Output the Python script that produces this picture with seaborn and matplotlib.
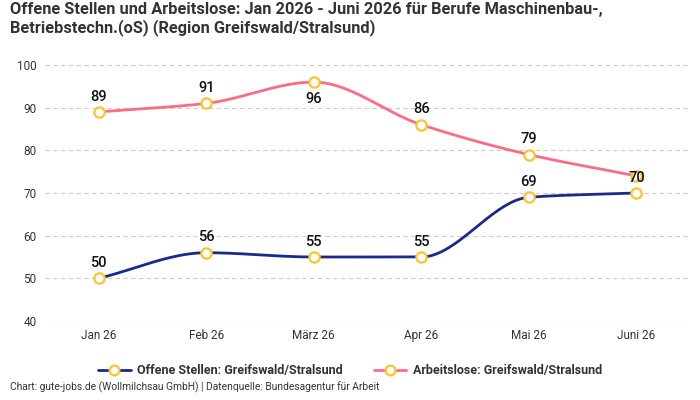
import numpy as np
import pandas as pd
import matplotlib.pyplot as plt
import seaborn as sns
from matplotlib.lines import Line2D

months = ["Jan 26", "Feb 26", "März 26", "Apr 26", "Mai 26", "Juni 26"]
offene_stellen = [50, 56, 55, 55, 69, 70]
arbeitslose = [89, 91, 96, 86, 79, 74]
arbeitslose_labels = ["89", "91", "96", "86", "79", "70"]
offene_labels = ["50", "56", "55", "55", "69", "70"]

sns.set_theme(style="white")
plt.rcParams['font.family'] = ['Roboto', 'DejaVu Sans']

BLUE = "#1b2a8a"
PINK = "#ff6b84"
GOLD = "#ffc42a"


def monotone(x, y, n=40):
    # monotone cubic (Fritsch-Carlson) just for drawing the smooth line
    x = np.asarray(x, float)
    y = np.asarray(y, float)
    h = np.diff(x)
    d = np.diff(y) / h
    m = np.zeros_like(y)
    m[0], m[-1] = d[0], d[-1]
    for i in range(1, len(y) - 1):
        if d[i - 1] * d[i] <= 0:
            m[i] = 0
        else:
            m[i] = 3 * (h[i - 1] + h[i]) / ((2 * h[i] + h[i - 1]) / d[i - 1] + (h[i] + 2 * h[i - 1]) / d[i])
    xs, ys = [], []
    for i in range(len(h)):
        t = np.linspace(0, 1, n)
        h00 = 2 * t**3 - 3 * t**2 + 1
        h10 = t**3 - 2 * t**2 + t
        h01 = -2 * t**3 + 3 * t**2
        h11 = t**3 - t**2
        xs.append(x[i] + t * h[i])
        ys.append(h00 * y[i] + h10 * h[i] * m[i] + h01 * y[i + 1] + h11 * h[i] * m[i + 1])
    return np.concatenate(xs), np.concatenate(ys)


df = pd.DataFrame({"pos": range(len(months)), "Offene": offene_stellen, "Arbeitslose": arbeitslose})

fig = plt.figure(figsize=(7, 4), dpi=100)
ax = fig.add_axes([0.064, 0.1975, 0.922, 0.64])

for col, color in [("Offene", BLUE), ("Arbeitslose", PINK)]:
    sx, sy = monotone(df["pos"], df[col])
    ax.plot(sx, sy, color=color, lw=2, zorder=2)
    sns.scatterplot(data=df, x="pos", y=col, ax=ax, s=55, color="white",
                    edgecolor=GOLD, linewidth=1.6, zorder=3, legend=False)

for i, v in enumerate(offene_stellen):
    ax.annotate(offene_labels[i], (i, v), xytext=(0, 6), textcoords="offset points",
                ha="center", va="bottom", fontsize=10.5, fontweight="medium", color="#111111")
for i, v in enumerate(arbeitslose):
    if i == 5:
        continue
    off = -7 if i == 2 else 6
    ax.annotate(arbeitslose_labels[i], (i, v), xytext=(0, off), textcoords="offset points",
                ha="center", va="top" if off < 0 else "bottom", fontsize=10.5,
                fontweight="medium", color="#111111")

ax.set_xlim(-0.5, 5.5)
ax.set_ylim(40, 100)
ax.set_yticks([40, 50, 60, 70, 80, 90, 100])
ax.set_xticks(range(len(months)))
ax.set_xticklabels(months)
ax.tick_params(axis="both", labelsize=8.5, colors="#333333", length=0, pad=6)
ax.set_xlabel("")
ax.set_ylabel("")
ax.grid(axis="y", color="#cccccc", linestyle=(0, (4, 3)), lw=0.8)
ax.set_axisbelow(True)
for s in ax.spines.values():
    s.set_visible(False)

fig.text(0.014, 0.995, "Offene Stellen und Arbeitslose: Jan 2026 - Juni 2026 für Berufe Maschinenbau-,\nBetriebstechn.(oS) (Region Greifswald/Stralsund)",
         ha="left", va="top", fontsize=11.8, fontweight="bold", color="#333333", linespacing=1.15)

handles = [Line2D([0], [0], color=BLUE, lw=2, marker="o", markersize=7, markerfacecolor="white",
                  markeredgecolor=GOLD, markeredgewidth=1.6),
           Line2D([0], [0], color=PINK, lw=2, marker="o", markersize=7, markerfacecolor="white",
                  markeredgecolor=GOLD, markeredgewidth=1.6)]
leg = fig.legend(handles, ["Offene Stellen: Greifswald/Stralsund", "Arbeitslose: Greifswald/Stralsund"],
                 loc="center", bbox_to_anchor=(0.5, 0.073), ncol=2, frameon=False,
                 prop={"size": 9, "weight": "bold"}, handlelength=2.6, columnspacing=2.5, handletextpad=0.5)
for t in leg.get_texts():
    t.set_color("#333333")

fig.text(0.014, 0.018, "Chart: gute-jobs.de (Wollmilchsau GmbH) | Datenquelle: Bundesagentur für Arbeit",
         ha="left", va="bottom", fontsize=7.4, color="#333333")

fig.savefig("out.png", dpi=100)
